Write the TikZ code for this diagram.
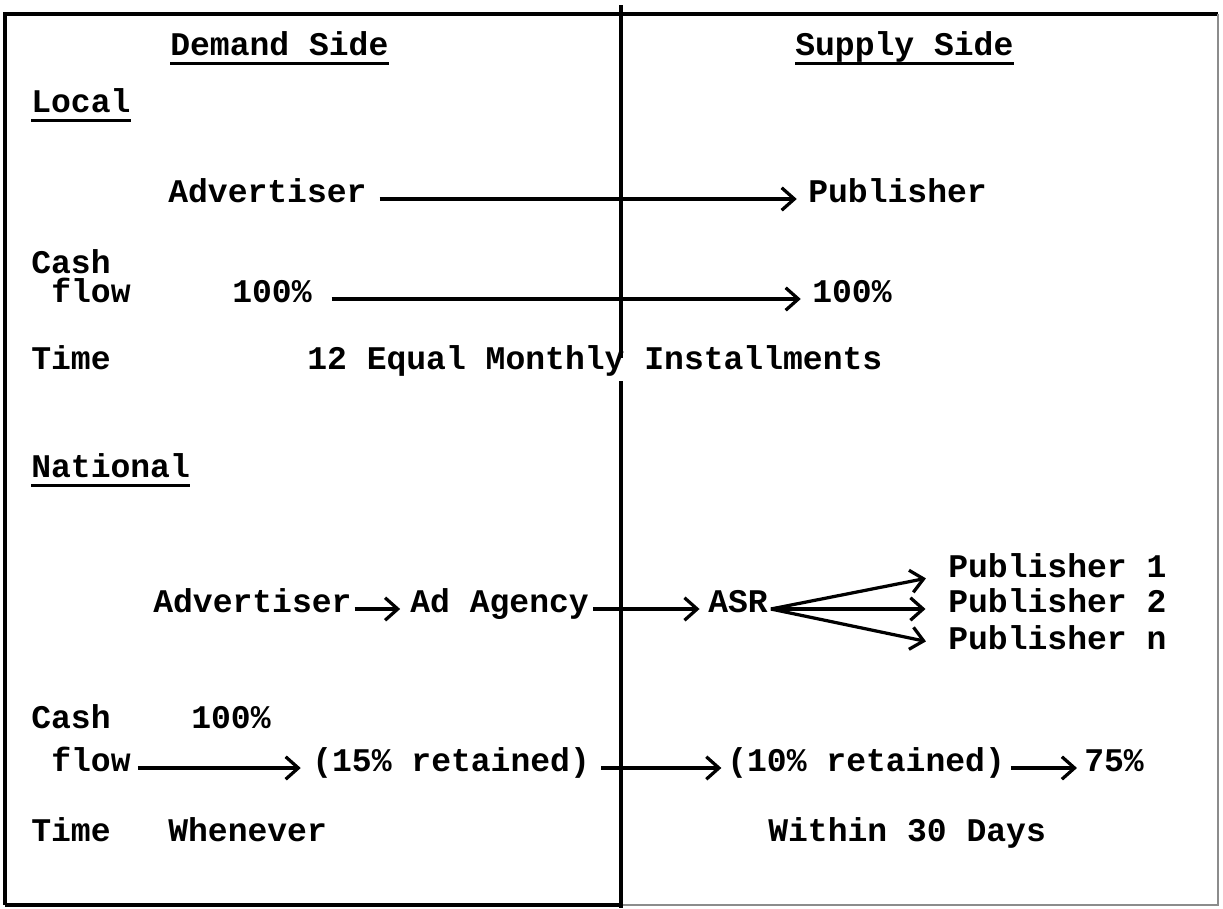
\documentclass[tikz,border=0pt]{standalone}
\usepackage{fontspec}
\setmonofont{Liberation Mono}
\usetikzlibrary{arrows.meta}
\begin{document}
\begin{tikzpicture}[x=0.025cm,y=-0.025cm,
  txt/.style={font=\ttfamily\bfseries\fontsize{23.5}{26}\selectfont,
    inner sep=0pt, anchor=west, text height=0.62em, text depth=0.1em},
  flow/.style={line width=2.3pt,
    -{Straight Barb[length=9pt,width=16pt,line width=2.3pt]},
    shorten <=6pt, shorten >=8pt},
  uline/.style={line width=1.8pt},
  frame/.style={line width=2.2pt},
  faint/.style={line width=0.8pt, black!45}]
\useasboundingbox (0,0) rectangle (1223,908);
\fill[white] (0,0) rectangle (1223,908);

% outer frame
\draw[frame] (5,905) -- (5,14) -- (1218,14);
\draw[faint] (1218,14) -- (1218,905) -- (622,905);
\draw[frame] (5,905) -- (622,905);

% column headings
\node[txt] (dem) at (170,52) {Demand Side};
\node[txt] (sup) at (795,52) {Supply Side};
\draw[uline] ([yshift=-4.3pt]dem.south west) -- ([yshift=-4.3pt]dem.south east);
\draw[uline] ([yshift=-4.3pt]sup.south west) -- ([yshift=-4.3pt]sup.south east);

% local advertising
\node[txt] (loc) at (31,109) {Local};
\draw[uline] ([yshift=-4.3pt]loc.south west) -- ([yshift=-4.3pt]loc.south east);
\node[txt] (advL) at (168,199) {Advertiser};
\node[txt] (pubL) at (808,199) {Publisher};
\draw[flow, shorten <=9pt] (advL) -- (pubL);

\node[txt] (cashL) at (31,270) {Cash};
\node[txt] (flowL) at (51,299) {flow};
\node[txt] (pctA) at (232,299) {100\%};
\node[txt] (pctB) at (812,299) {100\%};
\draw[flow, shorten <=14pt] (pctA) -- (pctB);

\node[txt] (timeL) at (31,366) {Time};
\node[txt] (inst) at (307,366) {12 Equal Monthly Installments};

% centre divider, broken where it meets the line of text above
\coordinate (divtop) at (621,5);
\coordinate (divbot) at (621,908);
\draw[frame] (divtop) -- ([yshift=2pt]divtop |- inst.north);
\draw[frame] ([yshift=-7pt]divbot |- inst.south) -- (divbot);

% national advertising
\node[txt] (nat) at (31,474) {National};
\draw[uline] ([yshift=-4.3pt]nat.south west) -- ([yshift=-4.3pt]nat.south east);
\node[txt] (advN) at (153,609) {Advertiser};
\node[txt] (agency) at (410,609) {Ad Agency};
\node[txt] (asr) at (708,609) {ASR};
\node[txt] (pub1) at (948,574) {Publisher 1};
\node[txt] (pub2) at (948,609) {Publisher 2};
\node[txt] (pubn) at (948,646) {Publisher n};
\draw[flow, shorten <=2pt, shorten >=7pt] (advN) -- (agency);
\draw[flow, shorten <=3pt, shorten >=6pt] (agency) -- (asr);
\coordinate (fan) at ([xshift=2pt]asr.east);
\draw[flow, shorten <=0pt, shorten >=16pt] (fan) -- (pub1.west);
\draw[flow, shorten <=0pt, shorten >=16pt] (fan) -- (pub2.west);
\draw[flow, shorten <=0pt, shorten >=16pt] (fan) -- (pubn.west);

\node[txt] (cashN) at (31,725) {Cash};
\node[txt] (pctN) at (191,725) {100\%};
\node[txt] (flowN) at (51,768) {flow};
\node[txt] (ret15) at (312,768) {(15\% retained)};
\node[txt] (ret10) at (727,768) {(10\% retained)};
\node[txt] (net) at (1084,768) {75\%};
\draw[flow, shorten <=5pt, shorten >=8pt] (flowN) -- (ret15);
\draw[flow, shorten <=8pt, shorten >=4pt] (ret15) -- (ret10);
\draw[flow, shorten <=4pt, shorten >=5pt] (ret10) -- (net);

\node[txt] (timeN) at (31,838) {Time};
\node[txt] (when) at (168,838) {Whenever};
\node[txt] (within) at (768,838) {Within 30 Days};
\end{tikzpicture}
\end{document}
